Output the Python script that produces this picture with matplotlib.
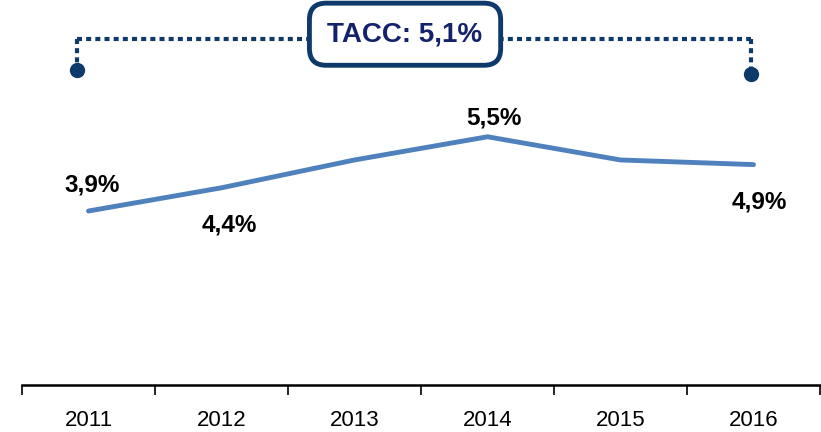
import matplotlib
matplotlib.use("Agg")
import matplotlib.pyplot as plt

# data
years = ['2011', '2012', '2013', '2014', '2015', '2016']
values = [3.9, 4.4, 5.0, 5.5, 5.0, 4.9]
labels = ['3,9%', '4,4%', '', '5,5%', '', '4,9%']
cagr_text = 'TACC: 5,1%'

plt.rcParams['font.family'] = ['Liberation Sans', 'DejaVu Sans']

fig = plt.figure(figsize=(8.21, 4.32), dpi=100)
ax = fig.add_axes([22 / 821, 47 / 432, 798 / 821, 385 / 432])

x = list(range(len(years)))
ax.plot(x, values, color='#4F81BD', linewidth=3.5, solid_capstyle='round', zorder=3)

# data labels (above or below the line)
offsets = [(0.03, 0.55), (0.06, -0.8), None, (0.05, 0.4), None, (0.04, -0.8)]
for i, (lab, off) in enumerate(zip(labels, offsets)):
    if not lab:
        continue
    ax.text(i + off[0], values[i] + off[1], lab, ha='center', va='center',
            fontsize=17.5, fontweight='bold', color='black')

# CAGR bracket
navy = '#0D3A6A'
y_br = 7.61
xl, xr = -0.09, 4.98
ax.plot([xl, xr], [y_br, y_br], color=navy, linewidth=3,
        linestyle=(0, (1.2, 1.0)), dash_capstyle='butt', clip_on=False, zorder=2)
ax.plot([xl, xl], [y_br, 6.94], color=navy, linewidth=3,
        linestyle=(0, (1.2, 1.0)), clip_on=False, zorder=2)
ax.plot([xr, xr], [y_br, 6.85], color=navy, linewidth=3,
        linestyle=(0, (1.2, 1.0)), clip_on=False, zorder=2)
ax.plot([xl], [6.94], 'o', color=navy, markersize=10, clip_on=False, zorder=4)
ax.plot([xr], [6.85], 'o', color=navy, markersize=10, clip_on=False, zorder=4)
ax.text(2.38, 7.71, cagr_text, ha='center', va='center', fontsize=20,
        fontweight='bold', color='#13226B', zorder=5,
        bbox=dict(boxstyle='round,pad=0.65,rounding_size=0.6', facecolor='white',
                  edgecolor=navy, linewidth=3.5))

# axes styling
ax.set_xlim(-0.5, 5.5)
ax.set_ylim(0.15, 0.15 + 385 / 46.4)
for s in ['top', 'left', 'right']:
    ax.spines[s].set_visible(False)
ax.spines['bottom'].set_linewidth(1.8)
ax.set_yticks([])
ax.set_xticks([i - 0.5 for i in range(len(years) + 1)])
ax.set_xticklabels([])
ax.tick_params(axis='x', which='major', direction='out', length=7.5, width=1.2)
ax.set_xticks(x, minor=True)
ax.set_xticklabels(years, minor=True, fontsize=16)
ax.tick_params(axis='x', which='minor', length=0, pad=18)

fig.savefig('out.png', dpi=100)
